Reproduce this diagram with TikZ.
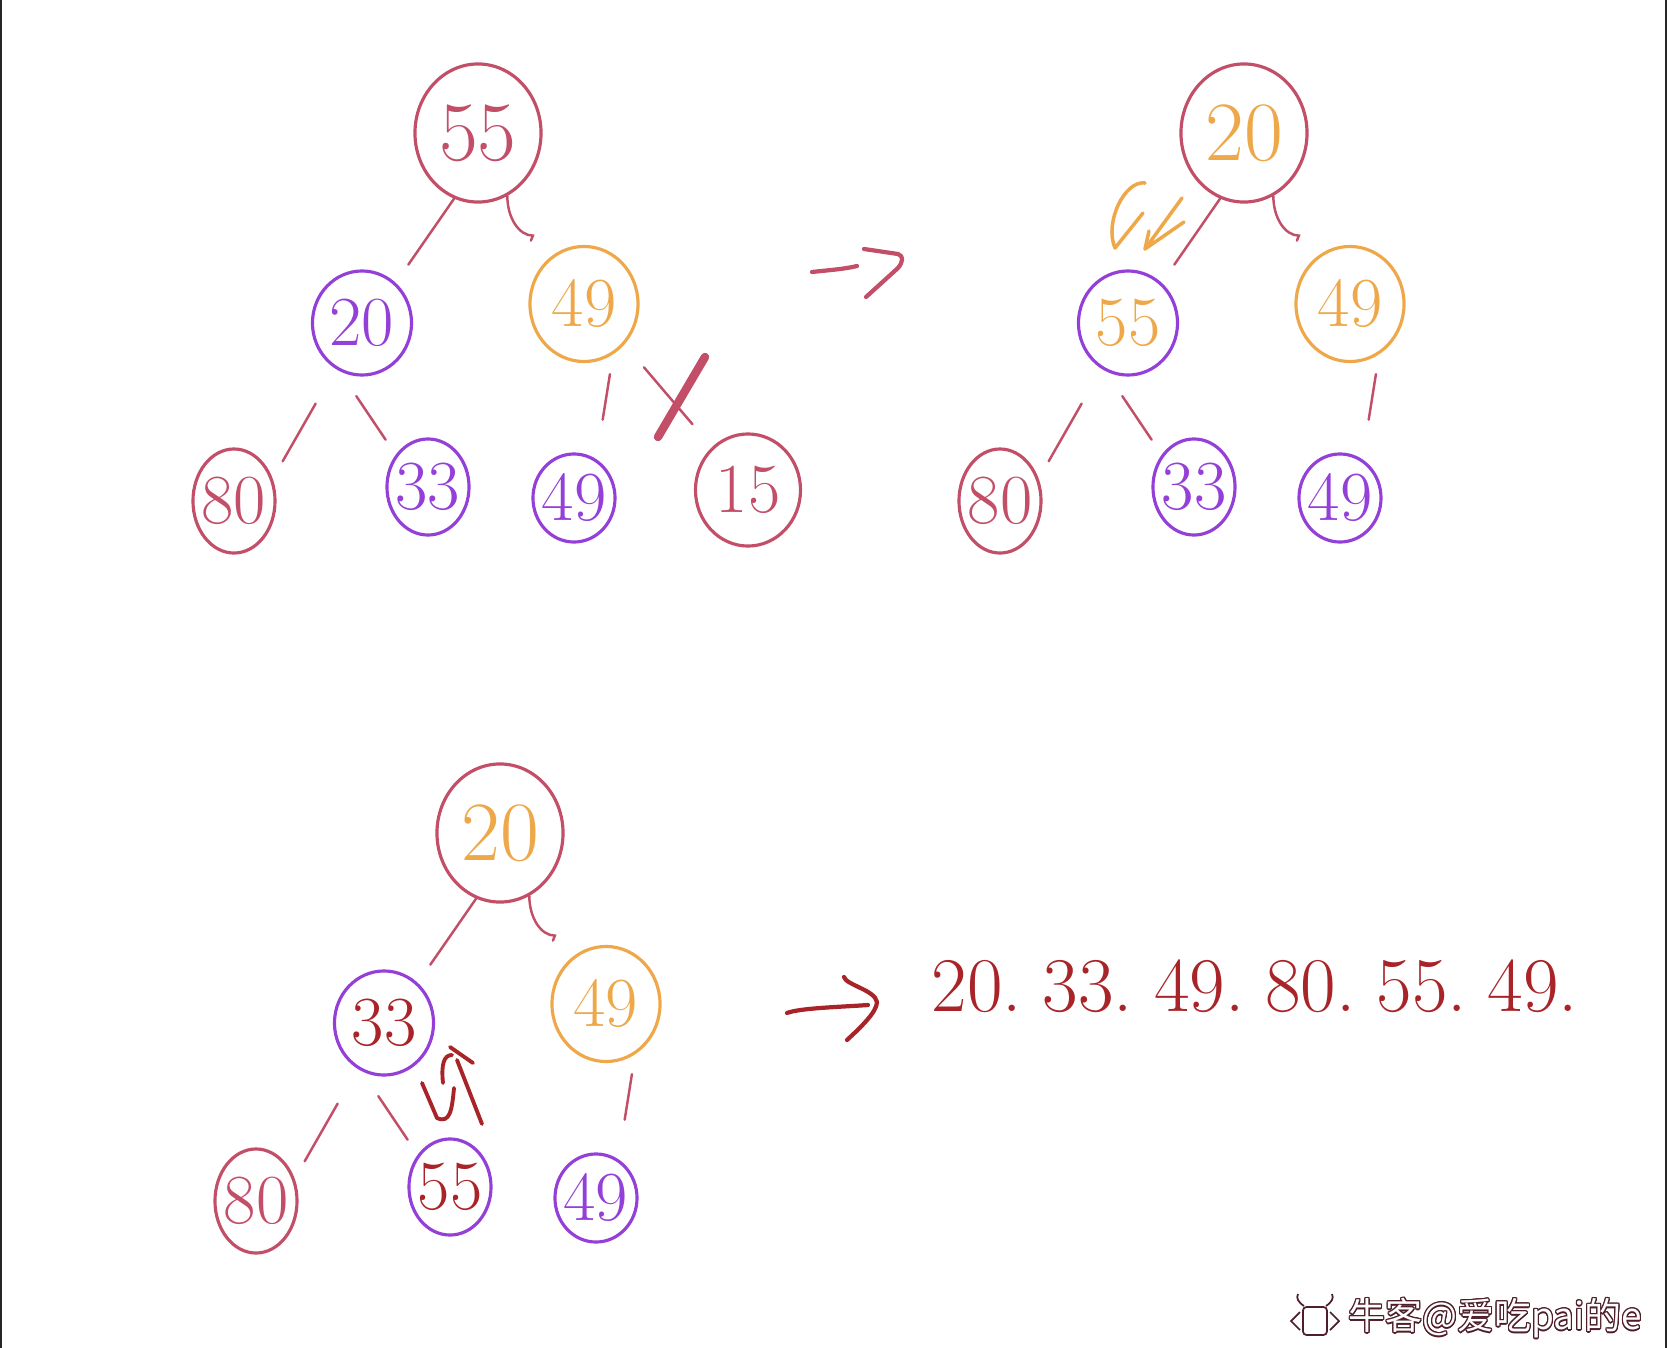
\documentclass[tikz,border=0pt]{standalone}
\usepackage{fontspec}
\newfontfamily\cjk{Noto Sans CJK SC}
\usepackage[copies]{contour}
\usepackage{tikz}
\usetikzlibrary{shapes.geometric}
\definecolor{rose}{RGB}{194,78,104}
\definecolor{vio}{RGB}{148,64,216}
\definecolor{orng}{RGB}{238,168,74}
\definecolor{dred}{RGB}{168,36,40}
\contourlength{0.35pt}
\contournumber{16}

\begin{document}
\begin{tikzpicture}[x=0.01cm,y=-0.01cm,
    nd/.style={ellipse,line width=0.9pt,inner sep=-0.2cm,font=\fontsize{20}{20}\selectfont},
    rootnd/.style={nd,minimum width=1.26cm,minimum height=1.38cm,font=\fontsize{24}{24}\selectfont},
    midnd/.style={nd,minimum width=0.99cm,minimum height=1.04cm},
    orgnd/.style={nd,draw=orng,text=orng,minimum width=1.08cm,minimum height=1.15cm},
    leafnd/.style={nd,minimum width=0.82cm,minimum height=0.96cm},
    lk/.style={draw=rose,line width=0.7pt,line cap=round},
    swp/.style={draw=orng,line width=1pt,line cap=round,line join=round},
    swpb/.style={draw=dred,line width=1.1pt,line cap=round,line join=round},
    hand/.style={line width=1.2pt,line cap=round,line join=round}]
    \useasboundingbox (0,0) rectangle (1668,1348);
    \draw[line width=0.02cm,black!85] (1,0) -- (1,1348);
    \draw[line width=0.02cm,black!85] (1666,0) -- (1666,1348);

    \node[rootnd,draw=rose,text=rose] (r1) at (478,133) {55};
    \node[midnd,draw=vio,text=vio] (a1) at (362,323) {20};
    \node[orgnd] (b1) at (584,304) {49};
    \node[leafnd,draw=rose,text=rose,minimum height=1.04cm] (c1) at (234,501) {80};
    \node[leafnd,draw=vio,text=vio] (c2) at (428,487) {33};
    \node[leafnd,draw=vio,text=vio,minimum height=0.88cm] (c3) at (574,498) {49};
    \node[leafnd,draw=rose,text=rose,minimum width=1.05cm,minimum height=1.12cm] (c4) at (748,490) {15};
    \draw[lk,shorten >=0.22cm] (r1.250) -- (a1.50);
    \draw[lk] (r1.-65) .. controls +(0,22) and +(-14,0) .. ([shift={(-22,-18)}]b1.120) -- +(-2,5);
    \draw[lk,shorten <=0.4cm,shorten >=0.2cm] (a1.240) -- (c1.30);
    \draw[lk,shorten <=0.3cm,shorten >=0.18cm] (a1.-115) -- (c2.135);
    \draw[lk,shorten <=0.2cm,shorten >=0.4cm] (b1.-60) -- (c3.60);
    \draw[lk,shorten <=0.3cm,shorten >=0.3cm] (b1.-45) -- (c4.130);
    \draw[rose,line width=2.4pt,line cap=round] (705,357) -- (658,437);

    \draw[hand,rose] (812,272) .. controls (830,270) and (845,269) .. (857,266);
    \draw[hand,rose] (864,249) -- (898,254) .. controls (904,256) and (903,262) .. (898,268) -- (866,297);

    \node[rootnd,draw=rose,text=orng] (r2) at (478+766,133) {20};
    \node[midnd,draw=vio,text=orng] (a2) at (362+766,323) {55};
    \node[orgnd] (b2) at (584+766,304) {49};
    \node[leafnd,draw=rose,text=rose,minimum height=1.04cm] (d1) at (234+766,501) {80};
    \node[leafnd,draw=vio,text=vio] (d2) at (428+766,487) {33};
    \node[leafnd,draw=vio,text=vio,minimum height=0.88cm] (d3) at (574+766,498) {49};
    \draw[lk,shorten >=0.22cm] (r2.250) -- (a2.50);
    \draw[lk] (r2.-65) .. controls +(0,22) and +(-14,0) .. ([shift={(-22,-18)}]b2.120) -- +(-2,5);
    \draw[lk,shorten <=0.4cm,shorten >=0.2cm] (a2.240) -- (d1.30);
    \draw[lk,shorten <=0.3cm,shorten >=0.18cm] (a2.-115) -- (d2.135);
    \draw[lk,shorten <=0.2cm,shorten >=0.4cm] (b2.-60) -- (d3.60);
    \draw[swp] (1145,183) .. controls (1125,180) and (1104,222) .. (1115,248) -- (1143,213);
    \draw[swp] (1182,198) -- (1145,249) -- (1184,222);
    \draw[swp] (1149,231) -- (1145,249);

    \node[rootnd,draw=rose,text=orng] (r3) at (478+22,133+700) {20};
    \node[midnd,draw=vio,text=dred] (a3) at (362+22,323+700) {33};
    \node[orgnd] (b3) at (584+22,304+700) {49};
    \node[leafnd,draw=rose,text=rose,minimum height=1.04cm] (e1) at (234+22,501+700) {80};
    \node[leafnd,draw=vio,text=dred] (e2) at (428+22,487+700) {55};
    \node[leafnd,draw=vio,text=vio,minimum height=0.88cm] (e3) at (574+22,498+700) {49};
    \draw[lk,shorten >=0.22cm] (r3.250) -- (a3.50);
    \draw[lk] (r3.-65) .. controls +(0,22) and +(-14,0) .. ([shift={(-22,-18)}]b3.120) -- +(-2,5);
    \draw[lk,shorten <=0.4cm,shorten >=0.2cm] (a3.240) -- (e1.30);
    \draw[lk,shorten <=0.3cm,shorten >=0.18cm] (a3.-115) -- (e2.135);
    \draw[lk,shorten <=0.2cm,shorten >=0.4cm] (b3.-60) -- (e3.60);
    \draw[swpb] (443,1083) .. controls (441,1064) and (444,1055) .. (452,1055);
    \draw[swpb] (454,1088) .. controls (452,1110) and (450,1124) .. (437,1118) -- (422,1083);
    \draw[swpb] (482,1124) -- (457,1060);
    \draw[swpb] (450,1047) -- (473,1063);

    \draw[hand,dred] (787,1013) .. controls (800,1008) and (840,1007) .. (868,1005);
    \draw[hand,dred] (844,977) .. controls (846,985) and (875,990) .. (877,1002) .. controls (877,1012) and (860,1028) .. (847,1040);
    \node[anchor=base west,inner sep=0pt,text=dred,font=\fontsize{22}{22}\selectfont] (seq) at (931,1011) {20.\hspace{0.27em}33.\hspace{0.27em}49.\hspace{0.27em}80.\hspace{0.27em}55.\hspace{0.27em}49.};

    \draw[line width=0.5pt,rose!40!black,fill=white,rounded corners=1pt] (1303,1307) rectangle (1327,1335);
    \draw[line width=0.5pt,rose!40!black] (1300,1312) -- (1291,1321) -- (1300,1330);
    \draw[line width=0.5pt,rose!40!black] (1330,1312) -- (1339,1321) -- (1330,1330);
    \draw[line width=0.5pt,rose!40!black] (1304,1306) .. controls (1298,1302) and (1296,1298) .. (1298,1294);
    \draw[line width=0.5pt,rose!40!black] (1326,1306) .. controls (1332,1302) and (1334,1298) .. (1332,1294);
    \node[anchor=west,inner sep=0pt,font=\cjk\fontsize{10.5}{10.5}\selectfont] (mark) at (1348,1319) {\contour{rose!40!black}{\textcolor{white}{牛客@爱吃pai的e}}};
\end{tikzpicture}
\end{document}
